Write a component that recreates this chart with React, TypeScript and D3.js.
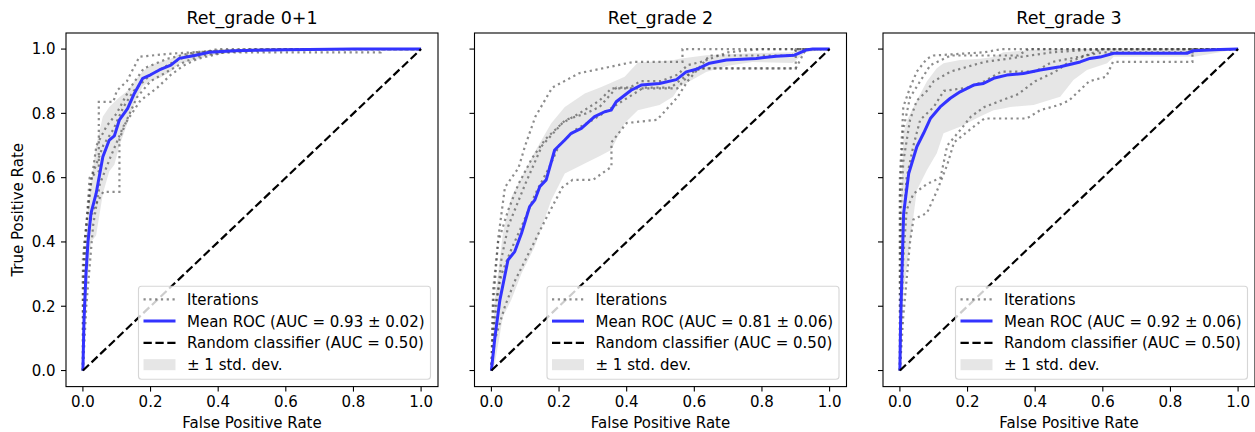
import React from "react";
import * as d3 from "d3";

// ---- data ----
const titles = ["Ret_grade 0+1", "Ret_grade 2", "Ret_grade 3"];
const meanLabels = [
  "Mean ROC (AUC = 0.93 ± 0.02)",
  "Mean ROC (AUC = 0.81 ± 0.06)",
  "Mean ROC (AUC = 0.92 ± 0.06)",
];
const ticks = [0, 0.2, 0.4, 0.6, 0.8, 1.0];

// panel 1 : Ret_grade 0+1
const mean1Fpr = [0, 0.003, 0.009, 0.015, 0.024, 0.039, 0.059, 0.078, 0.093, 0.108, 0.132, 0.152, 0.177, 0.2, 0.226, 0.26, 0.285, 0.33, 0.374, 0.45, 0.6, 0.8, 1.0];
const mean1Tpr = [0, 0.15, 0.3, 0.4, 0.49, 0.55, 0.665, 0.717, 0.73, 0.78, 0.815, 0.862, 0.909, 0.92, 0.935, 0.95, 0.971, 0.98, 0.99, 0.995, 0.998, 1.0, 1.0];
const band1Hi = [0, 0.25, 0.42, 0.5, 0.58, 0.7, 0.79, 0.82, 0.835, 0.85, 0.87, 0.9, 0.93, 0.95, 0.96, 0.97, 0.985, 0.992, 0.997, 1, 1, 1, 1];
const band1Lo = [0, 0.06, 0.18, 0.3, 0.4, 0.42, 0.55, 0.62, 0.64, 0.7, 0.77, 0.83, 0.885, 0.9, 0.91, 0.93, 0.955, 0.965, 0.98, 0.99, 0.995, 1, 1];
const iter1 = [
  [[0, 0], [0, 0.3], [0.01, 0.45], [0.02, 0.6], [0.047, 0.62], [0.047, 0.836], [0.09, 0.836], [0.1, 0.87], [0.13, 0.9], [0.167, 0.976], [0.25, 0.985], [0.4, 0.995], [0.6, 1], [1, 1]],
  [[0, 0], [0.005, 0.25], [0.01, 0.4], [0.03, 0.5], [0.06, 0.556], [0.108, 0.556], [0.108, 0.72], [0.13, 0.78], [0.16, 0.85], [0.2, 0.9], [0.25, 0.93], [0.3, 0.96], [0.35, 0.98], [0.42, 0.99], [0.6, 1], [1, 1]],
  [[0, 0], [0, 0.35], [0.015, 0.5], [0.025, 0.6], [0.06, 0.7], [0.09, 0.75], [0.12, 0.82], [0.15, 0.87], [0.2, 0.92], [0.26, 0.955], [0.31, 0.98], [0.4, 1], [1, 1]],
  [[0, 0], [0.01, 0.2], [0.03, 0.45], [0.05, 0.58], [0.08, 0.66], [0.12, 0.76], [0.17, 0.84], [0.22, 0.88], [0.26, 0.92], [0.3, 0.95], [0.34, 0.97], [0.42, 0.99], [0.88, 0.99], [0.88, 1], [1, 1]],
  [[0, 0], [0.005, 0.4], [0.02, 0.55], [0.04, 0.7], [0.07, 0.76], [0.1, 0.8], [0.14, 0.88], [0.18, 0.94], [0.25, 0.97], [0.33, 0.99], [0.5, 1], [1, 1]],
];

// panel 2 : Ret_grade 2
const mean2Fpr = [0, 0.01, 0.025, 0.049, 0.069, 0.089, 0.113, 0.128, 0.143, 0.162, 0.187, 0.217, 0.236, 0.266, 0.305, 0.335, 0.354, 0.369, 0.413, 0.443, 0.497, 0.547, 0.576, 0.606, 0.645, 0.695, 0.783, 0.842, 0.896, 0.93, 0.95, 1.0];
const mean2Tpr = [0, 0.1, 0.219, 0.344, 0.37, 0.427, 0.51, 0.53, 0.572, 0.593, 0.686, 0.717, 0.738, 0.753, 0.79, 0.805, 0.81, 0.836, 0.872, 0.888, 0.893, 0.905, 0.929, 0.937, 0.956, 0.966, 0.971, 0.978, 0.981, 0.997, 1.0, 1.0];
const band2Fpr = [0, 0.01, 0.034, 0.059, 0.089, 0.128, 0.177, 0.217, 0.276, 0.325, 0.354, 0.394, 0.433, 0.497, 0.537, 0.556, 0.635, 0.7, 0.772, 0.89, 0.93, 1.0];
const band2Hi = [0, 0.22, 0.427, 0.54, 0.6, 0.68, 0.769, 0.82, 0.862, 0.882, 0.895, 0.914, 0.958, 0.962, 0.965, 0.97, 0.981, 0.984, 0.987, 0.99, 1, 1];
const band2Lo = [0, 0.02, 0.167, 0.22, 0.302, 0.385, 0.53, 0.613, 0.644, 0.67, 0.686, 0.769, 0.81, 0.826, 0.852, 0.882, 0.929, 0.948, 0.96, 0.957, 0.99, 1];
const iter2 = [
  [[0, 0], [0.005, 0.2], [0.02, 0.41], [0.04, 0.57], [0.08, 0.63], [0.1, 0.7], [0.13, 0.79], [0.18, 0.88], [0.26, 0.925], [0.42, 0.96], [0.565, 0.96], [0.565, 1], [1, 1]],
  [[0, 0], [0.01, 0.15], [0.03, 0.35], [0.05, 0.45], [0.1, 0.58], [0.15, 0.7], [0.21, 0.77], [0.26, 0.8], [0.32, 0.84], [0.355, 0.878], [0.55, 0.878], [0.6, 0.94], [0.9, 0.94], [0.9, 1], [1, 1]],
  [[0, 0], [0.01, 0.095], [0.04, 0.2], [0.07, 0.28], [0.12, 0.385], [0.16, 0.47], [0.21, 0.57], [0.24, 0.593], [0.3, 0.593], [0.355, 0.634], [0.355, 0.71], [0.4, 0.77], [0.49, 0.78], [0.55, 0.85], [0.58, 0.9], [0.645, 0.98], [0.89, 0.98], [0.9, 1], [1, 1]],
  [[0, 0], [0.01, 0.2], [0.03, 0.3], [0.06, 0.38], [0.09, 0.45], [0.13, 0.55], [0.17, 0.63], [0.2, 0.7], [0.25, 0.75], [0.3, 0.78], [0.36, 0.82], [0.42, 0.86], [0.45, 0.88], [0.53, 0.88], [0.58, 0.92], [0.62, 0.94], [0.9, 0.94], [0.93, 1], [1, 1]],
  [[0, 0], [0.005, 0.25], [0.02, 0.4], [0.05, 0.5], [0.08, 0.58], [0.12, 0.66], [0.16, 0.72], [0.22, 0.78], [0.28, 0.8], [0.32, 0.82], [0.37, 0.88], [0.41, 0.88], [0.44, 0.9], [0.5, 0.9], [0.55, 0.92], [0.58, 0.95], [0.62, 0.96], [0.7, 0.99], [0.8, 1], [1, 1]],
];

// panel 3 : Ret_grade 3
const mean3Fpr = [0, 0.002, 0.006, 0.011, 0.026, 0.035, 0.05, 0.07, 0.09, 0.119, 0.149, 0.178, 0.218, 0.247, 0.277, 0.316, 0.365, 0.415, 0.474, 0.533, 0.562, 0.592, 0.632, 0.849, 0.868, 0.947, 1.0];
const mean3Tpr = [0, 0.15, 0.302, 0.489, 0.613, 0.644, 0.696, 0.738, 0.784, 0.82, 0.847, 0.867, 0.888, 0.893, 0.909, 0.919, 0.924, 0.935, 0.945, 0.96, 0.971, 0.975, 0.987, 0.987, 0.995, 0.999, 1.0];
const band3Fpr = [0, 0.002, 0.011, 0.022, 0.031, 0.05, 0.08, 0.109, 0.129, 0.178, 0.237, 0.277, 0.306, 0.326, 0.395, 0.474, 0.513, 0.553, 0.613, 0.632, 0.87, 1.0];
const band3Hi = [0, 0.5, 0.74, 0.78, 0.8, 0.84, 0.9, 0.94, 0.956, 0.966, 0.97, 0.975, 0.99, 0.992, 0.998, 1, 1, 1, 1, 1, 1, 1];
const band3Lo = [0, 0.02, 0.25, 0.33, 0.406, 0.561, 0.624, 0.676, 0.738, 0.758, 0.79, 0.81, 0.815, 0.82, 0.826, 0.852, 0.904, 0.935, 0.956, 0.976, 0.976, 1];
const iter3 = [
  [[0, 0], [0, 0.55], [0.01, 0.75], [0.03, 0.85], [0.06, 0.9], [0.09, 0.95], [0.15, 0.98], [0.35, 0.98], [0.38, 1], [1, 1]],
  [[0, 0], [0.003, 0.5], [0.01, 0.65], [0.03, 0.78], [0.05, 0.84], [0.08, 0.87], [0.1, 0.9], [0.15, 0.93], [0.25, 0.96], [0.32, 0.97], [0.45, 0.99], [0.6, 1], [1, 1]],
  [[0, 0], [0.005, 0.4], [0.02, 0.6], [0.04, 0.7], [0.06, 0.78], [0.1, 0.82], [0.13, 0.87], [0.2, 0.88], [0.25, 0.9], [0.3, 0.93], [0.4, 0.93], [0.45, 0.96], [0.6, 0.99], [0.87, 0.99], [0.87, 1], [1, 1]],
  [[0, 0], [0.01, 0.17], [0.03, 0.4], [0.04, 0.47], [0.08, 0.49], [0.11, 0.56], [0.14, 0.64], [0.16, 0.71], [0.22, 0.76], [0.25, 0.784], [0.375, 0.784], [0.415, 0.81], [0.47, 0.826], [0.5, 0.84], [0.52, 0.86], [0.56, 0.9], [0.61, 0.914], [0.63, 0.96], [0.865, 0.96], [0.865, 1], [1, 1]],
  [[0, 0], [0.01, 0.35], [0.02, 0.5], [0.04, 0.55], [0.08, 0.58], [0.12, 0.6], [0.14, 0.7], [0.18, 0.75], [0.21, 0.79], [0.25, 0.82], [0.3, 0.84], [0.35, 0.86], [0.4, 0.9], [0.46, 0.93], [0.5, 0.96], [0.55, 0.98], [0.6, 1], [1, 1]],
  [[0, 0], [0, 0.6], [0.01, 0.82], [0.03, 0.88], [0.05, 0.93], [0.08, 0.97], [0.1, 0.98], [0.25, 0.99], [0.3, 1], [1, 1]],
];

const panels = [
  { meanFpr: mean1Fpr, meanTpr: mean1Tpr, bandFpr: mean1Fpr, lo: band1Lo, hi: band1Hi, iters: iter1 },
  { meanFpr: mean2Fpr, meanTpr: mean2Tpr, bandFpr: band2Fpr, lo: band2Lo, hi: band2Hi, iters: iter2 },
  { meanFpr: mean3Fpr, meanTpr: mean3Tpr, bandFpr: band3Fpr, lo: band3Lo, hi: band3Hi, iters: iter3 },
];

// ---- layout ----
const W = 1255;
const H = 432;
const panelLeft = [66, 474.5, 883];
const panelW = 372;
const axTop = 33;
const axBottom = 386.6;
const FONT = "DejaVu Sans";
const fmt = d3.format(".1f");

const iterStyle = { stroke: "#404040", strokeOpacity: 0.6, strokeWidth: 2.2, strokeDasharray: "2.2 3.6", fill: "none" };
const meanStyle = { stroke: "#3333ff", strokeWidth: 3, fill: "none", strokeLinejoin: "round" as const };
const diagStyle = { stroke: "#000", strokeWidth: 2.2, strokeDasharray: "8.3 3.6", fill: "none" };

function Panel({ idx }: { idx: number }) {
  const p = panels[idx];
  const left = panelLeft[idx];
  const x = d3.scaleLinear().domain([-0.05, 1.05]).range([left, left + panelW]);
  const y = d3.scaleLinear().domain([-0.05, 1.05]).range([axBottom, axTop]);

  const line = d3.line<number[]>().x((d) => x(d[0])).y((d) => y(d[1]));
  const meanPts = p.meanFpr.map((f, i) => [f, p.meanTpr[i]]);
  const area = d3
    .area<number>()
    .x((f) => x(f))
    .y0((_, i) => y(p.lo[i]))
    .y1((_, i) => y(p.hi[i]));

  const lgW = 292;
  const lgH = 93;
  const lgX = left + panelW - 7.5 - lgW;
  const lgY = axBottom - 7.3 - lgH;
  const rows = [13, 34.8, 56.6, 78.4].map((r) => lgY + r);
  const hx0 = lgX + 5;
  const hx1 = lgX + 37;
  const tx = lgX + 48.5;

  return (
    <g>
      <path d={area(p.bandFpr) || ""} fill="#808080" fillOpacity={0.2} />
      {p.iters.map((it, i) => (
        <path key={i} d={line(it) || ""} {...iterStyle} />
      ))}
      <path d={line(meanPts) || ""} {...meanStyle} />
      <path d={line([[0, 0], [1, 1]]) || ""} {...diagStyle} />

      {/* frame */}
      <rect x={left} y={axTop} width={panelW} height={axBottom - axTop} fill="none" stroke="#000" strokeWidth={1.1} />

      {/* x ticks */}
      {ticks.map((t) => (
        <g key={"x" + t}>
          <line x1={x(t)} x2={x(t)} y1={axBottom} y2={axBottom + 5} stroke="#000" strokeWidth={1.1} />
          <text x={x(t)} y={axBottom + 20} textAnchor="middle" fontSize={15} fontFamily={FONT}>
            {fmt(t)}
          </text>
        </g>
      ))}
      {/* y ticks */}
      {ticks.map((t) => (
        <g key={"y" + t}>
          <line x1={left - 5} x2={left} y1={y(t)} y2={y(t)} stroke="#000" strokeWidth={1.1} />
          {idx === 0 && (
            <text x={left - 10.5} y={y(t)} dy="0.36em" textAnchor="end" fontSize={15} fontFamily={FONT}>
              {fmt(t)}
            </text>
          )}
        </g>
      ))}

      <text x={left + panelW / 2} y={24} textAnchor="middle" fontSize={17.5} fontFamily={FONT}>
        {titles[idx]}
      </text>
      <text x={left + panelW / 2} y={428} textAnchor="middle" fontSize={15} fontFamily={FONT}>
        False Positive Rate
      </text>
      {idx === 0 && (
        <text
          transform={`translate(23,${(axTop + axBottom) / 2}) rotate(-90)`}
          textAnchor="middle"
          fontSize={15}
          fontFamily={FONT}
        >
          True Positive Rate
        </text>
      )}

      {/* legend */}
      <rect x={lgX} y={lgY} width={lgW} height={lgH} rx={3} fill="#fff" fillOpacity={0.8} stroke="#cccccc" strokeOpacity={0.8} strokeWidth={1.1} />
      <line x1={hx0} x2={hx1} y1={rows[0]} y2={rows[0]} {...iterStyle} />
      <line x1={hx0} x2={hx1} y1={rows[1]} y2={rows[1]} {...meanStyle} />
      <line x1={hx0} x2={hx1} y1={rows[2]} y2={rows[2]} {...diagStyle} />
      <rect x={hx0} y={rows[3] - 5.5} width={hx1 - hx0} height={11} fill="#808080" fillOpacity={0.2} />
      {["Iterations", meanLabels[idx], "Random classifier (AUC = 0.50)", "± 1 std. dev."].map((s, i) => (
        <text key={s} x={tx} y={rows[i]} dy="0.36em" fontSize={15} fontFamily={FONT}>
          {s}
        </text>
      ))}
    </g>
  );
}

export default function App() {
  return (
    <svg width={W} height={H} style={{ position: "absolute", left: 0, top: 0, background: "#fff" }}>
      <rect width={W} height={H} fill="#fff" />
      {[0, 1, 2].map((i) => (
        <Panel key={i} idx={i} />
      ))}
    </svg>
  );
}
